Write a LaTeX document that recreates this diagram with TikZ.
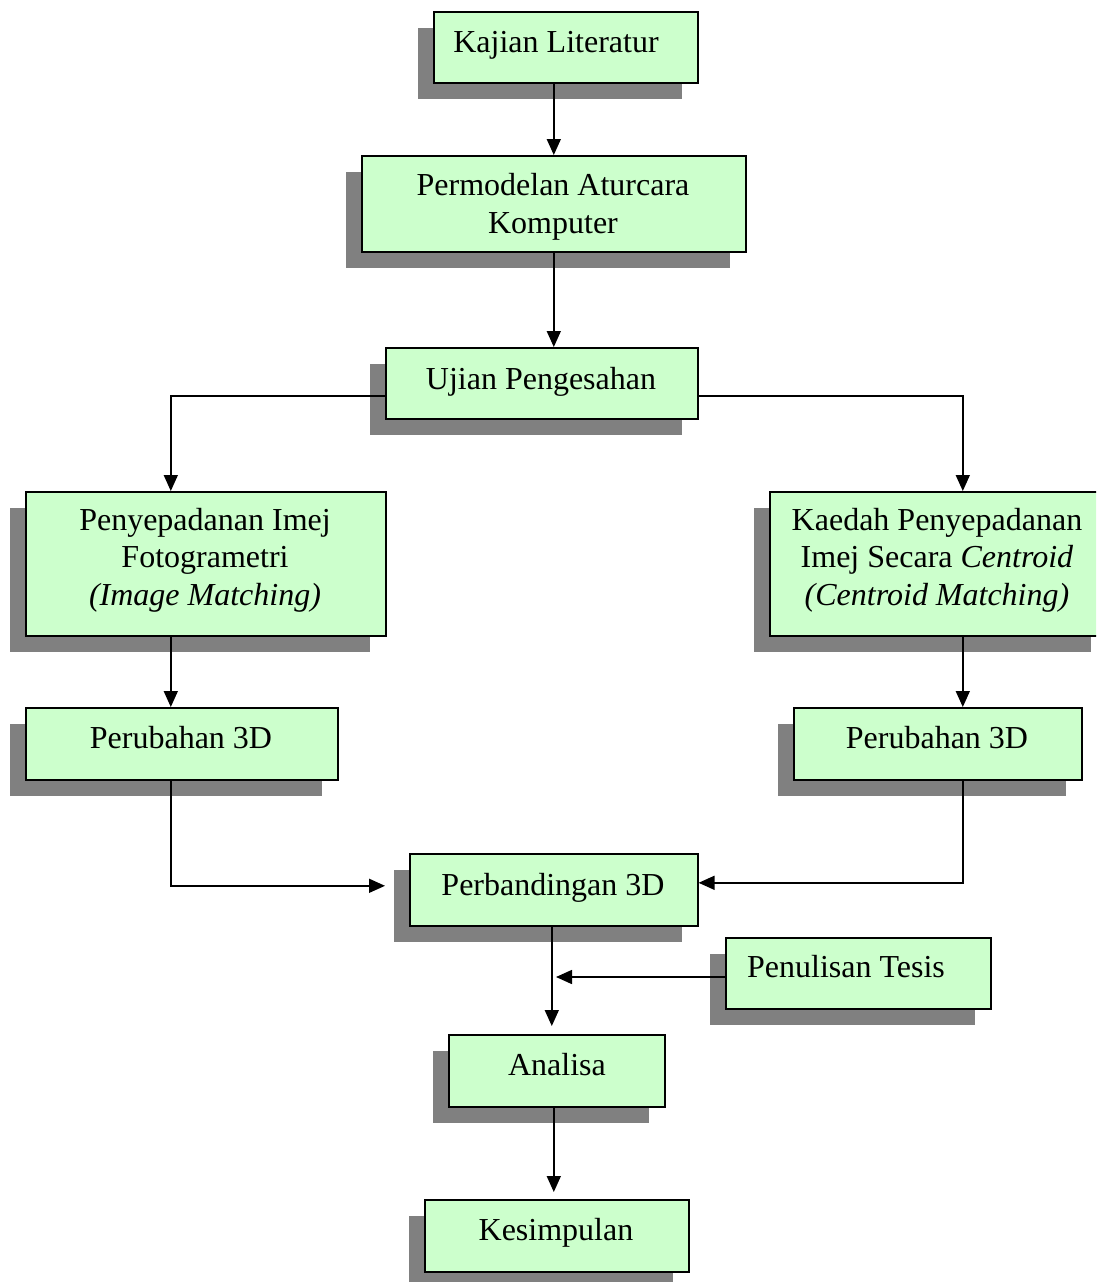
\documentclass[tikz,border=0pt]{standalone}
\usepackage{fontspec}
\setmainfont{Liberation Serif}
\usetikzlibrary{shadows,arrows.meta}
\definecolor{boxgreen}{HTML}{CCFFCC}
\definecolor{shadowgray}{HTML}{808080}
\begin{document}
\begin{tikzpicture}[x=1pt,y=-1pt,
  box/.style={draw=black, line width=1.6pt, fill=boxgreen, rectangle, inner sep=0pt, anchor=north west,
    drop shadow={shadow xshift=-16pt, shadow yshift=-16pt, fill=shadowgray, opacity=1}},
  txt/.style={font=\fontsize{32}{37.5}\selectfont, inner sep=0pt, anchor=base, align=center},
  arr/.style={line width=1.6pt, -{Triangle[length=16pt,width=14pt]}},
  ln/.style={line width=1.6pt}]
\clip (0,0) rectangle (1096,1282);
\fill[white] (0,0) rectangle (1096,1282);
% boxes
\node[box, minimum width=264pt, minimum height=71pt] (kl) at (433,11) {};
\node[box, minimum width=384pt, minimum height=96pt] (pm) at (361,155) {};
\node[box, minimum width=312pt, minimum height=71pt] (uj) at (385,347) {};
\node[box, minimum width=360pt, minimum height=144pt] (pi) at (25,491) {};
\node[box, minimum width=337pt, minimum height=144pt] (kd) at (769,491) {};
\node[box, minimum width=312pt, minimum height=72pt] (pl) at (25,707) {};
\node[box, minimum width=288pt, minimum height=72pt] (pr) at (793,707) {};
\node[box, minimum width=288pt, minimum height=72pt] (pb) at (409,853) {};
\node[box, minimum width=265pt, minimum height=71pt] (pt) at (725,937) {};
\node[box, minimum width=216pt, minimum height=72pt] (an) at (448,1034) {};
\node[box, minimum width=264pt, minimum height=72pt] (ks) at (424,1199) {};
% texts (base = baseline of last line)
\node[txt] (klt) at (556,52) {Kajian Literatur};
\node[txt] (pmt) at (553,233) {Permodelan Aturcara\\Komputer};
\node[txt] (ujt) at (541,389) {Ujian Pengesahan};
\node[txt] (pit) at (205,605) {Penyepadanan Imej\\Fotogrametri\\\textit{(Image Matching)}};
\node[txt] (kdt) at (937,605) {Kaedah Penyepadanan\\Imej Secara \textit{Centroid}\\\textit{(Centroid Matching)}};
\node[txt] (plt) at (181,748) {Perubahan 3D};
\node[txt] (prt) at (937,748) {Perubahan 3D};
\node[txt] (pbt) at (553,895) {Perbandingan 3D};
\node[txt] (ptt) at (846,977) {Penulisan Tesis};
\node[txt] (ant) at (557,1075) {Analisa};
\node[txt] (kst) at (556,1240) {Kesimpulan};
% connectors
\draw[arr] (kl.south -| pm.north) -- (pm.north);
\draw[arr] (pm.south) -- (pm.south |- uj.north);
\draw[arr] ([yshift=-12.5pt]uj.west) -| ([xshift=-35pt]pi.north);
\draw[arr] ([yshift=-12.5pt]uj.east) -| ([xshift=24.5pt]kd.north);
\draw[arr] ([xshift=-35pt]pi.south) -- ([xshift=-11pt]pl.north);
\draw[arr] ([xshift=24.5pt]kd.south) -- ([xshift=25pt]pr.north);
\draw[arr] ([xshift=-11pt]pl.south) |- ([xshift=-24pt,yshift=4pt]pb.west);
\draw[arr] ([xshift=25pt]pr.south) |- ([yshift=7pt]pb.east);
\draw[arr] ([xshift=-2pt]pb.south) -- ([xshift=-5pt,yshift=8pt]an.north);
\coordinate (mid) at (556,977);
\draw[arr] (mid -| pt.west) -- (mid);
\draw[arr] ([xshift=-3pt]an.south) -- ([xshift=-3pt,yshift=7pt]ks.north);
\end{tikzpicture}
\end{document}
